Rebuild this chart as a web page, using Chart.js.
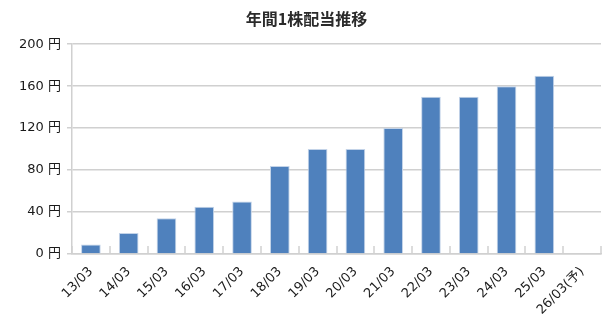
<!DOCTYPE html>
<html lang="ja">
<head>
    <meta charset="UTF-8">
    <title>年間1株配当推移</title>
    <script src="https://cdn.jsdelivr.net/npm/chart.js"></script>
    <style>
        body {
            margin: 0;
            background: #fff;
        }
        .chart-box {
            width: 612px;
            height: 328px;
        }
    </style>
</head>
<body>
    <div class="chart-box">
        <canvas id="dividendChart"></canvas>
    </div>

    <script>
        // Fiscal periods (YY/MM) and dividend per share in yen
        const periods = ['13/03', '14/03', '15/03', '16/03', '17/03', '18/03', '19/03',
                         '20/03', '21/03', '22/03', '23/03', '24/03', '25/03', '26/03(予)'];
        const dividends = [9, 20, 34, 45, 50, 84, 100, 100, 120, 150, 150, 160, 170, null];
        const yTicks = [0, 40, 80, 120, 160, 200];

        const gridGray = '#d0d0d0';
        const labelFont = { family: '"DejaVu Sans", "Noto Sans CJK JP", sans-serif', size: 13 };

        // short tick marks pointing up from the category axis, between the bars
        const innerTicks = {
            id: 'innerTicks',
            afterDatasetsDraw(chart) {
                const x = chart.scales.x;
                const ctx = chart.ctx;
                const bottom = chart.chartArea.bottom;
                const n = x.ticks.length;
                ctx.save();
                ctx.strokeStyle = gridGray;
                ctx.lineWidth = 1.5;
                for (let i = 0; i <= n; i++) {
                    const px = Math.round(x.getPixelForValue(i - 0.5));
                    ctx.beginPath();
                    ctx.moveTo(px, bottom);
                    ctx.lineTo(px, bottom - 8);
                    ctx.stroke();
                }
                ctx.restore();
            }
        };

        new Chart(document.getElementById('dividendChart'), {
            type: 'bar',
            data: {
                labels: periods,
                datasets: [{
                    data: dividends,
                    backgroundColor: '#4f81bd',
                    borderColor: '#c3d3e8',
                    borderWidth: 1,
                    categoryPercentage: 1,
                    barPercentage: 0.52
                }]
            },
            options: {
                responsive: true,
                maintainAspectRatio: false,
                animation: false,
                layout: { padding: { top: 4, right: 11, bottom: 0, left: 12 } },
                plugins: {
                    legend: { display: false },
                    tooltip: { enabled: false },
                    title: {
                        display: true,
                        text: '年間1株配当推移',
                        color: '#2b2b2b',
                        font: { family: '"Noto Sans CJK JP", sans-serif', size: 16, weight: 'bold' },
                        padding: { top: 5, bottom: 16 }
                    }
                },
                scales: {
                    x: {
                        offset: true,
                        grid: { display: false },
                        border: { color: gridGray, width: 1.5 },
                        ticks: {
                            color: '#1a1a1a',
                            font: labelFont,
                            minRotation: 45,
                            maxRotation: 45,
                            autoSkip: false,
                            padding: 2
                        },
                        afterFit(scale) { scale.height = 74; }
                    },
                    y: {
                        min: 0,
                        max: 200,
                        afterBuildTicks(scale) {
                            scale.ticks = yTicks.map(v => ({ value: v }));
                        },
                        grid: { color: gridGray, lineWidth: 1.5, tickLength: 5 },
                        border: { color: gridGray, width: 1.5 },
                        ticks: {
                            color: '#1a1a1a',
                            font: labelFont,
                            padding: 6,
                            callback: v => v + ' 円'
                        },
                        afterFit(scale) { scale.width = 60; }
                    }
                }
            },
            plugins: [innerTicks]
        });
    </script>
</body>
</html>
